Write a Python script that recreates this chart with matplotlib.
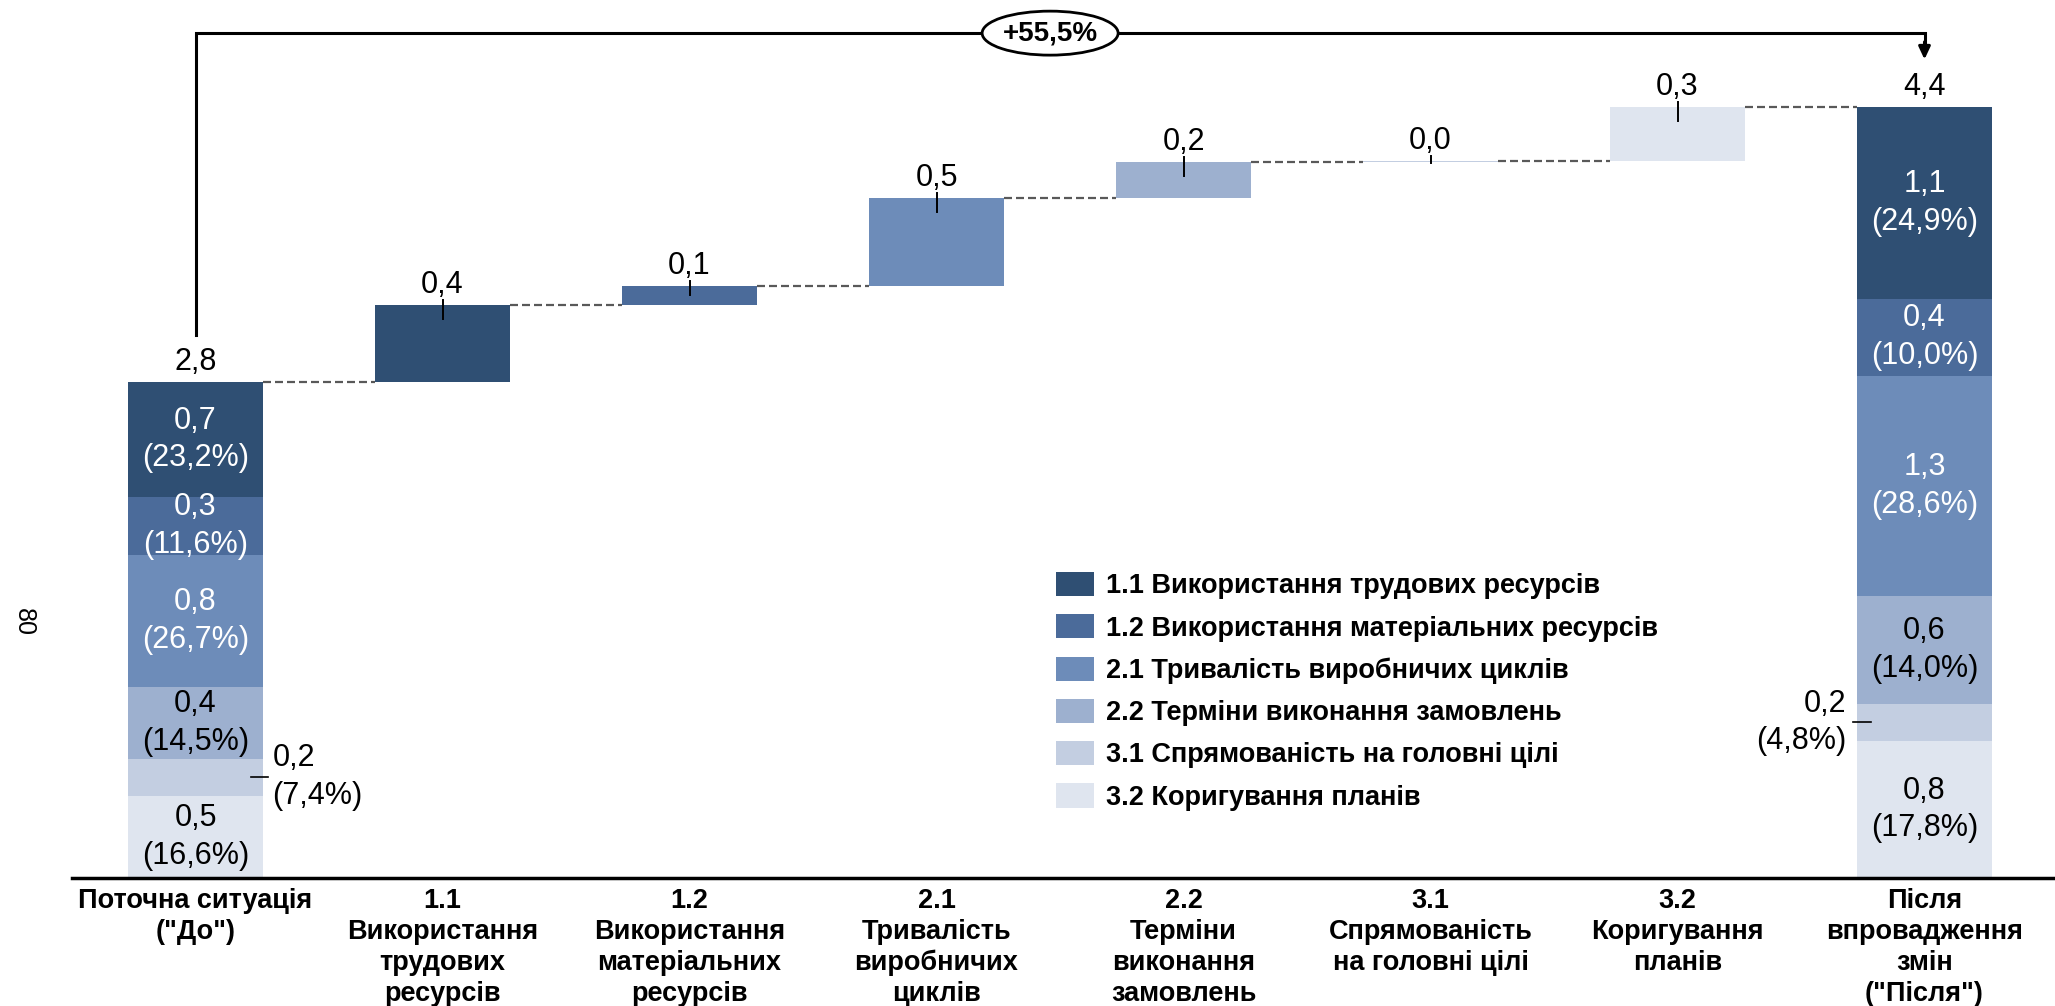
import matplotlib
matplotlib.use("Agg")
import matplotlib.pyplot as plt
from matplotlib.patches import Patch, Ellipse
import numpy as np

plt.rcParams['font.family'] = ['Liberation Sans', 'DejaVu Sans']

# ---- data -------------------------------------------------------------
categories = [
    'Поточна ситуація\n("До")',
    '1.1\nВикористання\nтрудових\nресурсів',
    '1.2\nВикористання\nматеріальних\nресурсів',
    '2.1\nТривалість\nвиробничих\nциклів',
    '2.2\nТерміни\nвиконання\nзамовлень',
    '3.1\nСпрямованість\nна головні цілі',
    '3.2\nКоригування\nпланів',
    'Після\nвпровадження\nзмін\n("Після")',
]
factor_names = [
    '1.1 Використання трудових ресурсів',
    '1.2 Використання матеріальних ресурсів',
    '2.1 Тривалість виробничих циклів',
    '2.2 Терміни виконання замовлень',
    '3.1 Спрямованість на головні цілі',
    '3.2 Коригування планів',
]
before_parts = [0.658, 0.328, 0.757, 0.410, 0.210, 0.470]
increments = [0.438, 0.112, 0.502, 0.206, 0.001, 0.313]

# ---- styling ----------------------------------------------------------
colors = ['#2F4F73', '#4B6B9A', '#6D8CB9', '#9DB0CF', '#C3CEE1', '#DFE5EF']
inner_text = ['white', 'white', 'white', 'black', None, 'black']  # None -> label outside

before = np.array(before_parts)
inc = np.array(increments)
after = before + inc
before_total = before.sum()
after_total = after.sum()
growth = (after_total / before_total - 1) * 100


def fmt(v):
    return f"{v:.1f}".replace('.', ',')


W, H, DPI = 2055, 1006, 100
fig = plt.figure(figsize=(W / DPI, H / DPI), dpi=DPI)
ax_left, ax_bottom, ax_top = 72, 128, 1006
ax = fig.add_axes([ax_left / W, ax_bottom / H, (W - ax_left) / W, (ax_top - ax_bottom) / H])

slot_px = 247.0
ax.set_xlim(-0.5, -0.5 + (W - ax_left) / slot_px)
px_per_unit = 175.1
ax.set_ylim(0, (ax_top - ax_bottom) / px_per_unit)
PX = 1.0 / px_per_unit   # one pixel in data units (y)
PXX = 1.0 / slot_px      # one pixel in data units (x)

bw = 0.55
n = len(categories)
x_before, x_after = 0, n - 1

num_fs = 22
lab_ls = 1.34


def stacked(xc, parts, total, outside_side):
    # lightest factor sits at the bottom, the darkest on top
    bottom = 0.0
    for i in reversed(range(len(parts))):
        v = parts[i]
        ax.bar(xc, v, bottom=bottom, width=bw, color=colors[i], linewidth=0)
        mid = bottom + v / 2
        txt = f"{fmt(v)}\n({fmt(v / total * 100)}%)"
        if inner_text[i] is not None:
            ax.text(xc, mid, txt, ha='center', va='center', color=inner_text[i],
                    fontsize=num_fs, linespacing=lab_ls)
        else:
            if outside_side == 'right':
                edge = xc + bw / 2
                ax.plot([edge - 12 * PXX, edge + 5 * PXX], [mid, mid], color='black', lw=1.2)
                ax.text(edge + 9 * PXX, mid, txt, ha='left', va='center', color='black',
                        fontsize=num_fs, linespacing=lab_ls)
            else:
                edge = xc - bw / 2
                ax.plot([edge - 4 * PXX, edge + 14 * PXX], [mid, mid], color='black', lw=1.2)
                ax.text(edge - 10 * PXX, mid, txt, ha='right', va='center', color='black',
                        fontsize=num_fs, linespacing=lab_ls, multialignment='right')
        bottom += v
    ax.text(xc, total + 12 * PX, fmt(total), ha='center', va='baseline', fontsize=num_fs)


stacked(x_before, before, before_total, 'right')
stacked(x_after, after, after_total, 'left')

# floating increment bars
dash = dict(color='#595959', lw=1.6, linestyle=(0, (3.6, 1.8)))
level = before_total
ax.plot([x_before + bw / 2, 1 - bw / 2], [level, level], **dash)
for i, d in enumerate(inc):
    xc = i + 1
    ax.bar(xc, d, bottom=level, width=bw, color=colors[i], linewidth=0)
    top = level + d
    inside = min(14 * PX, max(d / 2, 2 * PX))
    ax.plot([xc, xc], [top + 5 * PX, top - inside], color='black', lw=1.4)
    ax.text(xc, top + 12 * PX, fmt(d), ha='center', va='baseline', fontsize=num_fs)
    level = top
    ax.plot([xc + bw / 2, xc + 1 - bw / 2], [level, level], **dash)

# growth bracket
gap = 0.27
top_y = after_total + 0.42
ax.plot([x_before, x_before, x_after, x_after],
        [before_total + gap, top_y, top_y, after_total + gap + 0.08],
        color='black', lw=2.2, solid_joinstyle='miter', clip_on=False)
ax.annotate('', xy=(x_after, after_total + gap), xytext=(x_after, after_total + gap + 0.1),
            arrowprops=dict(arrowstyle='-|>,head_width=0.35,head_length=0.75',
                            color='black', lw=2.2, shrinkA=0, shrinkB=0))
mx = (x_before + x_after) / 2 - 0.04
ax.add_patch(Ellipse((mx, top_y), 136 * PXX, 44 * PX, facecolor='white',
                     edgecolor='black', lw=2, zorder=5, clip_on=False))
ax.text(mx, top_y, f"+{fmt(growth)}%", ha='center', va='center', fontsize=20,
        fontweight='bold', zorder=6)

# axes
ax.set_xticks(range(n), categories, fontsize=19.5, fontweight='bold', linespacing=1.25)
ax.tick_params(axis='x', length=0, pad=7)
ax.set_yticks([])
for s in ['top', 'right', 'left']:
    ax.spines[s].set_visible(False)
ax.spines['bottom'].set_linewidth(2.5)
ax.spines['bottom'].set_color('black')

# legend
handles = [Patch(facecolor=c, edgecolor='none') for c in colors]
leg_fs = 19.5
fs_px = leg_fs * DPI / 72
ax.legend(handles, factor_names, loc='upper left',
          bbox_to_anchor=(1056 / W, 1 - 572 / H), bbox_transform=fig.transFigure,
          frameon=False, borderpad=0, borderaxespad=0,
          handlelength=38 / fs_px, handleheight=27 / fs_px, handletextpad=0.45,
          labelspacing=0.55, prop=dict(size=leg_fs, weight='bold'))

fig.text(24 / W, 1 - 622 / H, '80', rotation=-90, ha='center', va='center', fontsize=18)

fig.savefig('out.png', dpi=DPI)
